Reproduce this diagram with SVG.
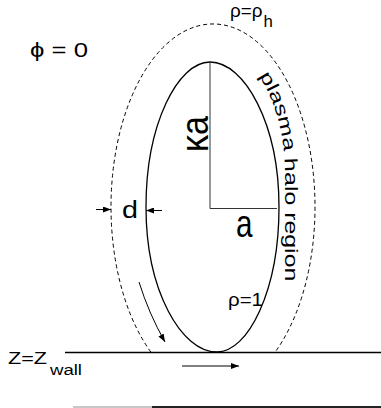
<svg xmlns="http://www.w3.org/2000/svg" width="381" height="408" viewBox="0 0 381 408">
<style>
text{font-family:"Liberation Sans","DejaVu Sans",Arial,sans-serif;fill:#000}
.ln{fill:none;stroke:#000;stroke-width:1.3}
.thin{fill:none;stroke:#333;stroke-width:1}
.dash{fill:none;stroke:#000;stroke-width:1;stroke-dasharray:4 3}
.arr{fill:none;stroke:#000;stroke-width:1;marker-end:url(#ah)}
</style>
<defs>
<marker id="ah" markerUnits="userSpaceOnUse" markerWidth="8" markerHeight="6" refX="8" refY="3" orient="auto">
<path d="M0,0 L8,3 L0,6 z" fill="#000"/>
</marker>
<path id="tp" d="M259,76 Q284,114 285,172 L285,300"/>
</defs>
<rect width="381" height="408" fill="#fff"/>
<g id="halo">
<path class="dash" d="M150.8,352 A102,183 0 1,1 275.2,352"/>
</g>
<g id="plasma">
<path class="ln" d="M210,62 C244.5,62 279,123.9 279,207 C279,291 248,352 217,352 C181.5,352 146,291 146,207 C146,123.9 178,62 210,62 Z"/>
<path class="thin" d="M210,62 L210,208.5 L277,208.5"/>
</g>
<g id="wall">
<line x1="65" y1="352.5" x2="381" y2="352.5" stroke="#000" stroke-width="1.5"/>
<line x1="73" y1="407" x2="152" y2="407" stroke="#c8c8c8" stroke-width="2"/>
<line x1="152" y1="407" x2="381" y2="407" stroke="#222" stroke-width="2"/>
</g>
<g id="connectors">
<line class="arr" x1="96" y1="209.5" x2="111" y2="209.5"/>
<line class="arr" x1="162" y1="210.5" x2="146" y2="210.5"/>
<path class="arr" d="M139,282 Q149,314 165,342"/>
<line class="arr" x1="182" y1="366" x2="239" y2="366"/>
</g>
<g id="labels">
<text x="30" y="57" font-size="20" textLength="58" lengthAdjust="spacingAndGlyphs">ϕ = 0</text>
<text transform="translate(230,17) scale(1.05,1)" font-size="18">ρ=ρ<tspan x="32" y="10" font-size="16">h</tspan></text>
<text transform="translate(208,152) rotate(-90) scale(0.9,1)" font-size="38">κa</text>
<text transform="translate(236,237) scale(0.78,1)" font-size="38">a</text>
<text x="122" y="218" font-size="23" textLength="16" lengthAdjust="spacingAndGlyphs">d</text>
<text x="228" y="306" font-size="18" textLength="35" lengthAdjust="spacingAndGlyphs">ρ=1</text>
<text x="8" y="364" font-size="16" textLength="39" lengthAdjust="spacingAndGlyphs">Z=Z</text>
<text x="50" y="375" font-size="14" textLength="32" lengthAdjust="spacingAndGlyphs">wall</text>
<text font-size="18"><textPath href="#tp" textLength="210" lengthAdjust="spacingAndGlyphs">plasma  halo region</textPath></text>
</g>
</svg>
